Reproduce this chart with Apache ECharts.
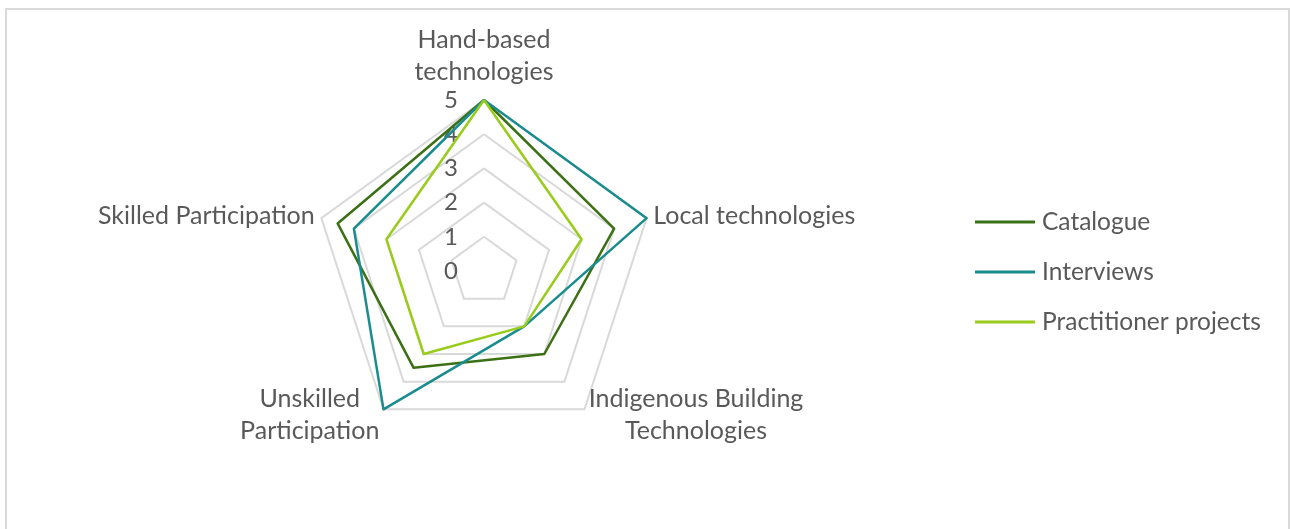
<!DOCTYPE html>
<html>
<head>
<meta charset="utf-8">
<script src="https://cdn.jsdelivr.net/npm/echarts@6/dist/echarts.min.js"></script>
<style>
  html, body { margin: 0; padding: 0; background: #ffffff; }
  #chart { width: 1290px; height: 529px; }
</style>
</head>
<body>
<div id="chart"></div>
<script>
// Categories in the reference's clockwise order, starting at the top
const categories = ['Hand-based\ntechnologies', 'Local technologies', 'Indigenous Building\nTechnologies', 'Unskilled\nParticipation', 'Skilled Participation'];
const seriesNames = ['Catalogue', 'Interviews', 'Practitioner projects'];
const catalogue = [5, 4, 3, 3.5, 4.5];
const interviews = [5, 5, 2, 5, 4];
const practitioner = [5, 3, 2, 3, 3];
const axisMax = 5;
const colors = ['#3B7014', '#1A8C8F', '#99CC1A'];

// ECharts radar runs counter-clockwise; reorder so the picture runs clockwise
const order = [0, 4, 3, 2, 1];
const reorder = arr => order.map(i => arr[i]);

const indicators = reorder(categories).map((name, i) => ({
  name: name,
  min: 0,
  max: axisMax,
  axisLabel: { show: i === 0 }
}));

const allData = [catalogue, interviews, practitioner];

const chart = echarts.init(document.getElementById('chart'));
chart.setOption({
  backgroundColor: '#ffffff',
  animation: false,
  color: colors,
  graphic: [{
    type: 'rect',
    shape: { x: 6, y: 9, width: 1283, height: 540 },
    style: { fill: 'none', stroke: '#d9d9d9', lineWidth: 2 },
    silent: true,
    z: -10
  }],
  legend: {
    orient: 'vertical',
    left: 970,
    top: 204,
    itemGap: 24,
    itemWidth: 60,
    itemHeight: 3,
    icon: 'rect',
    data: seriesNames,
    textStyle: { fontFamily: 'Lato', fontSize: 24.5, color: '#595959', lineHeight: 26, padding: [0, 0, 0, 2] }
  },
  radar: {
    center: [484, 271],
    radius: 171,
    startAngle: 90,
    shape: 'polygon',
    splitNumber: 5,
    indicator: indicators,
    nameGap: 7,
    axisName: {
      color: '#595959',
      fontFamily: 'Lato',
      fontSize: 25,
      lineHeight: 32,
      formatter: function (name) {
        return name.split('\n').map(s => '{c|' + s + '}').join('\n');
      },
      rich: {
        c: { align: 'center', fontFamily: 'Lato', fontSize: 25, color: '#595959', lineHeight: 32 }
      }
    },
    axisLine: { show: false },
    axisTick: { show: false },
    splitArea: { show: false },
    splitLine: { lineStyle: { color: '#d9d9d9', width: 2 } },
    axisLabel: {
      show: true,
      color: '#595959',
      fontFamily: 'Lato',
      fontSize: 24,
      margin: 26,
      padding: [4, 0, 0, 0]
    }
  },
  series: [{
    type: 'radar',
    symbol: 'none',
    data: allData.map((arr, k) => ({
      name: seriesNames[k],
      value: reorder(arr),
      lineStyle: { color: colors[k], width: 2.5 },
      itemStyle: { color: colors[k] }
    }))
  }]
});
</script>
</body>
</html>
